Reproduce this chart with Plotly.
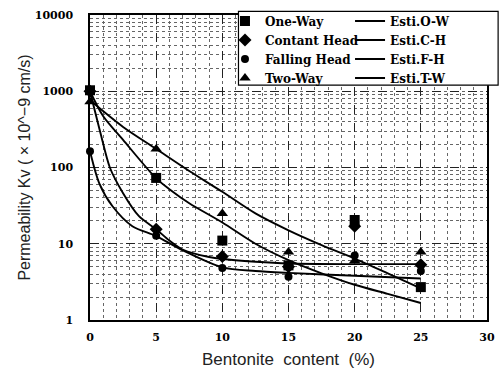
import plotly.graph_objects as go

# measured data
x_meas = [0, 5, 10, 15, 20, 25]
one_way = [1030, 73, 11, 5.2, 20.5, 2.7]
contant_head = [1000, 15.5, 6.8, 5.0, 17, 5.3]
falling_head = [163, 12.7, 4.8, 3.7, 7.0, 4.4]
two_way = [730, 175, 25, 7.8, 6.0, 7.8]

# estimated curves
x_ow = [0, 1, 2.5, 5, 6, 7.5, 10, 12.5, 15, 17.5, 20, 22.5, 25]
est_ow = [1000, 470, 230, 72, 52, 34, 19, 10, 6.1, 4.1, 2.9, 2.2, 1.67]
x_ch = [0, 0.8, 1.5, 2.5, 3.7, 5, 6, 7, 9, 10, 12.5, 15, 20, 25]
est_ch = [1000, 280, 100, 46, 23, 15.5, 11, 8.4, 6.7, 6.3, 5.8, 5.5, 5.4, 5.4]
x_fh = [0, 0.7, 1.7, 3.2, 5, 7, 10, 12.5, 15, 20, 25]
est_fh = [163, 62, 31, 17, 12.6, 8.2, 4.9, 4.4, 4.15, 3.8, 3.5]
x_tw = [0, 2.5, 5, 7.5, 10, 12.5, 15, 17.5, 20, 22.5, 25]
est_tw = [760, 340, 175, 90, 48, 25, 15, 9.6, 6.4, 4.1, 2.6]

y_tickvals = [1, 10, 100, 1000, 10000]
y_ticktext = ["1", "10", "100", "1000", "10000"]
x_tickvals = [0, 5, 10, 15, 20, 25, 30]

serif = "DejaVu Serif, Liberation Serif, serif"
sans = "Liberation Sans, Arial, sans-serif"
nb = "\u00a0"

fig = go.Figure()

line_style = dict(color="black", width=1.9, shape="spline", smoothing=0.8)

curves = [("Esti.O-W", x_ow, est_ow), ("Esti.C-H", x_ch, est_ch),
          ("Esti.F-H", x_fh, est_fh), ("Esti.T-W", x_tw, est_tw)]
for i, (name, xs, ys) in enumerate(curves):
    fig.add_trace(go.Scatter(x=xs, y=ys, mode="lines", name=name,
                             line=line_style, legend="legend2", legendrank=i + 1))

markers = [("One-Way", one_way, "square", 10),
           ("Contant Head", contant_head, "diamond", 10),
           ("Falling Head", falling_head, "circle", 8),
           ("Two-Way", two_way, "triangle-up", 10)]
for i, (name, ys, sym, size) in enumerate(markers):
    fig.add_trace(go.Scatter(x=x_meas, y=ys, mode="markers", name=name,
                             marker=dict(symbol=sym, size=size, color="black"),
                             legend="legend", legendrank=i + 1, cliponaxis=False))

legend_font = dict(family=serif, size=12, color="black", weight="bold")

fig.update_layout(
    width=500, height=369,
    margin=dict(l=90, r=13, t=15, b=49, autoexpand=False),
    paper_bgcolor="white", plot_bgcolor="white",
    showlegend=True,
    legend=dict(
        orientation="v", x=0.34, xanchor="left", y=1.028, yanchor="top",
        bgcolor="rgba(0,0,0,0)", borderwidth=0, font=legend_font,
        tracegroupgap=0, itemwidth=30,
    ),
    legend2=dict(
        orientation="v", x=0.655, xanchor="left", y=1.028, yanchor="top",
        bgcolor="rgba(0,0,0,0)", borderwidth=0, font=legend_font,
        tracegroupgap=0, itemwidth=30,
    ),
    shapes=[dict(type="rect", xref="paper", yref="paper",
                 x0=0.374, x1=1.028, y0=0.77, y1=1.012,
                 line=dict(color="black", width=1.2), fillcolor="white",
                 layer="above")],
    xaxis=dict(
        range=[0, 30], tickvals=x_tickvals, automargin=False,
        showline=True, linecolor="black", linewidth=1.5, mirror=True,
        showgrid=True, gridcolor="#222", gridwidth=1, griddash="dash",
        zeroline=False, ticks="", ticklabelstandoff=6,
        minor=dict(dtick=1, showgrid=True, gridcolor="#666", griddash="dot", gridwidth=1),
        tickfont=dict(family=serif, size=11, color="black", weight="bold"),
        title=dict(text=f"{nb*9}Bentonite{nb}{nb}content{nb}{nb}(%)", standoff=12,
                   font=dict(family=sans, size=17, color="#222")),
    ),
    yaxis=dict(
        type="log", range=[0, 4], tickvals=y_tickvals, ticktext=y_ticktext,
        automargin=False,
        showline=True, linecolor="black", linewidth=1.5, mirror=True,
        showgrid=True, gridcolor="#222", gridwidth=1, griddash="dash",
        zeroline=False, ticks="", ticklabelstandoff=13,
        minor=dict(dtick="D1", showgrid=True, gridcolor="#666", griddash="dot", gridwidth=1),
        tickfont=dict(family=serif, size=11, color="black", weight="bold"),
        title=dict(text="Permeability Kv ( × 10^−9 cm/s)", standoff=0,
                   font=dict(family=sans, size=16, color="#222")),
    ),
)

fig.write_html("out.html", config={"displayModeBar": False},
               post_script="document.body.style.margin='0px';")
